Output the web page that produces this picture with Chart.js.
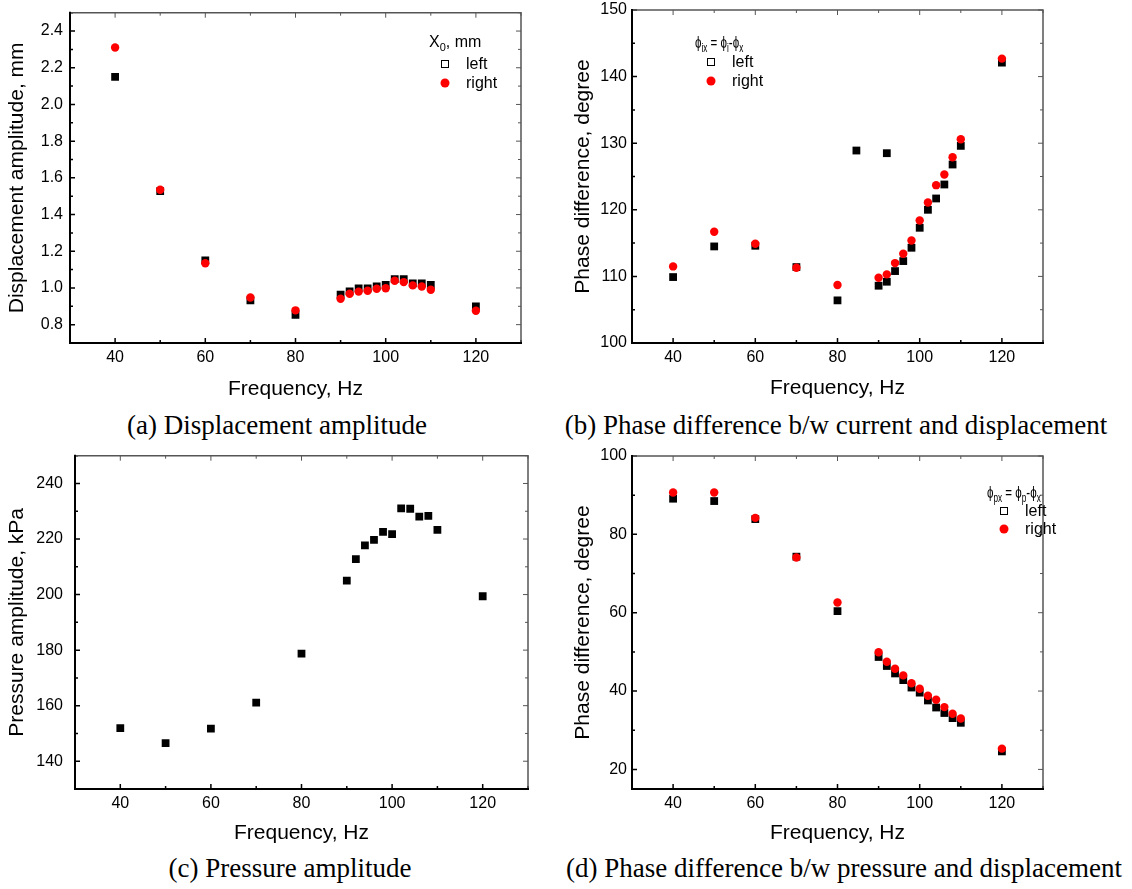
<!DOCTYPE html>
<html>
<head>
<meta charset="utf-8">
<script src="https://cdn.jsdelivr.net/npm/chart.js@4.4.1/dist/chart.umd.min.js"></script>
<style>
body{margin:0;background:#fff;}
#page{position:relative;width:1132px;height:889px;overflow:hidden;font-family:"Liberation Sans",Arial,sans-serif;color:#000;}
canvas{position:absolute;}
.cap{position:absolute;font-family:"Liberation Serif","Times New Roman",serif;font-size:27px;white-space:nowrap;line-height:1;transform:translate(-50%,-50%);}
.leg{position:absolute;font-size:16px;white-space:nowrap;line-height:1;transform:translateY(-50%);}
.phi{font-size:17px;transform-origin:left center;transform:translateY(-50%) scaleX(0.68);}
.sq{position:absolute;width:6px;height:6px;border:1px solid #000;transform:translate(-50%,-50%);}
.dot{position:absolute;width:9px;height:9px;border-radius:50%;background:#f00;transform:translate(-50%,-50%);}
sub{font-size:11px;vertical-align:-4px;line-height:0;}
.phi sub{font-size:12px;}
</style>
</head>
<body>
<div id="page">
  <canvas id="chartA" width="529" height="402" style="left:0;top:0"></canvas>
  <canvas id="chartB" width="491" height="401" style="left:560px;top:0"></canvas>
  <canvas id="chartC" width="536" height="406" style="left:0;top:440px"></canvas>
  <canvas id="chartD" width="491" height="406" style="left:560px;top:440px"></canvas>

  <!-- legends -->
  <div class="leg" style="left:429px;top:42px">X<sub>0</sub>, mm</div>
  <div class="sq" style="left:445px;top:64px"></div>
  <div class="leg" style="left:466px;top:64px">left</div>
  <div class="dot" style="left:445px;top:83px"></div>
  <div class="leg" style="left:466px;top:83px">right</div>

  <div class="leg phi" style="left:695px;top:42px">ϕ<sub>ix</sub> = ϕ<sub>i</sub>-ϕ<sub>x</sub></div>
  <div class="sq" style="left:711px;top:62px"></div>
  <div class="leg" style="left:732px;top:62px">left</div>
  <div class="dot" style="left:711px;top:81px"></div>
  <div class="leg" style="left:732px;top:81px">right</div>

  <div class="leg phi" style="left:987px;top:492px">ϕ<sub>px</sub> = ϕ<sub>p</sub>-ϕ<sub>x</sub></div>
  <div class="sq" style="left:1004px;top:511px"></div>
  <div class="leg" style="left:1025px;top:511px">left</div>
  <div class="dot" style="left:1004px;top:529px"></div>
  <div class="leg" style="left:1025px;top:529px">right</div>

  <!-- captions -->
  <div class="cap" style="left:277px;top:425px">(a) Displacement amplitude</div>
  <div class="cap" style="left:836px;top:425px">(b) Phase difference b/w current and displacement</div>
  <div class="cap" style="left:290px;top:868px">(c) Pressure amplitude</div>
  <div class="cap" style="left:844px;top:868px">(d) Phase difference b/w pressure and displacement</div>
</div>
<script>
// frequencies, Hz
const freq = [40, 50, 60, 70, 80, 90, 92, 94, 96, 98, 100, 102, 104, 106, 108, 110, 120];
const xTicks = [40, 60, 80, 100, 120];

// (a) displacement amplitude, mm
const ampLeft  = [2.15, 1.528, 1.15, 0.932, 0.854, 0.963, 0.981, 0.998, 0.998, 1.008, 1.017, 1.048, 1.048, 1.025, 1.025, 1.016, 0.90];
const ampRight = [2.31, 1.535, 1.135, 0.948, 0.878, 0.941, 0.968, 0.98, 0.985, 0.996, 0.998, 1.039, 1.032, 1.014, 1.008, 0.99, 0.876];
const ampTicks = [0.8, 1.0, 1.2, 1.4, 1.6, 1.8, 2.0, 2.2, 2.4];

// (b) phase current - displacement, degree
const phaseIxLeft  = [109.9, 114.5, 114.6, 111.4, 106.4, 108.6, 109.2, 110.8, 112.3, 114.3, 117.3, 120.0, 121.7, 123.8, 126.8, 129.6, 142.1];
const phaseIxRight = [111.5, 116.7, 114.9, 111.3, 108.7, 109.8, 110.3, 112.0, 113.4, 115.4, 118.4, 121.1, 123.7, 125.3, 127.9, 130.6, 142.7];
const extraFreq = [84.6, 92];          // two stray "left" points
const extraIxLeft = [128.9, 128.5];
const phaseIxTicks = [100, 110, 120, 130, 140, 150];

// (c) pressure amplitude, kPa
const pressure = [151.9, 146.5, 151.7, 161.1, 178.7, 205.0, 212.8, 217.7, 219.7, 222.6, 221.8, 231.0, 230.9, 228.1, 228.3, 223.3, 199.4];
const pressureTicks = [140, 160, 180, 200, 220, 240];

// (d) phase pressure - displacement, degree
const phasePxLeft  = [89.1, 88.5, 83.9, 74.3, 60.4, 48.7, 46.4, 44.5, 42.8, 40.9, 39.6, 37.6, 35.8, 34.4, 33.1, 31.9, 24.6];
const phasePxRight = [90.7, 90.7, 84.2, 74.1, 62.6, 49.9, 47.5, 45.7, 44.0, 42.0, 40.6, 38.8, 37.8, 35.9, 34.2, 33.0, 25.3];
const phasePxTicks = [20, 40, 60, 80, 100];

function pts(xs, ys) {
  return xs.map((x, i) => ({x: x, y: ys[i]}));
}

function squares(data) {
  return {label: 'left', data: data, pointStyle: 'rect', pointRadius: 5.5, pointHoverRadius: 5.5,
          backgroundColor: '#000', borderColor: '#000', borderWidth: 0, order: 2};
}
function circles(data) {
  return {label: 'right', data: data, pointStyle: 'circle', pointRadius: 4.2, pointHoverRadius: 4.2,
          backgroundColor: '#ff0000', borderColor: '#ff0000', borderWidth: 0, order: 1};
}

// box with inward major/minor ticks on all four sides
const frame = {
  id: 'frame',
  beforeDatasetsDraw(chart, args, o) {
    const ctx = chart.ctx, a = chart.chartArea;
    const xs = chart.scales.x, ys = chart.scales.y;
    function minors(scale, step) {
      const out = [];
      for (let i = Math.ceil(scale.min / step - 1e-9); i * step <= scale.max + 1e-9; i++) out.push(+(i * step).toFixed(6));
      return out;
    }
    function ticks(color, w, sides) {
      ctx.strokeStyle = color; ctx.lineWidth = w;
      ctx.beginPath();
      minors(xs, o.xMinor).forEach(v => {
        const p = xs.getPixelForValue(v);
        const len = xs.ticks.some(t => Math.abs(t.value - v) < 1e-6) ? 5 : 3;
        if (sides.bottom) { ctx.moveTo(p, a.bottom); ctx.lineTo(p, a.bottom - len); }
        if (sides.top) { ctx.moveTo(p, a.top); ctx.lineTo(p, a.top + len); }
      });
      minors(ys, o.yMinor).forEach(v => {
        const p = ys.getPixelForValue(v);
        const len = ys.ticks.some(t => Math.abs(t.value - v) < 1e-6) ? 5 : 3;
        if (sides.left) { ctx.moveTo(a.left, p); ctx.lineTo(a.left + len, p); }
        if (sides.right) { ctx.moveTo(a.right, p); ctx.lineTo(a.right - len, p); }
      });
      ctx.stroke();
    }
    ctx.save();
    ticks('#555', 1, {top: true, right: true});
    ticks('#000', 1.5, {bottom: true, left: true});
    ctx.strokeStyle = '#555'; ctx.lineWidth = 1.5;
    ctx.beginPath();
    ctx.moveTo(a.left, a.top); ctx.lineTo(a.right, a.top); ctx.lineTo(a.right, a.bottom);
    ctx.stroke();
    ctx.strokeStyle = '#000'; ctx.lineWidth = 2;
    ctx.beginPath();
    ctx.moveTo(a.left, a.top - 1); ctx.lineTo(a.left, a.bottom); ctx.lineTo(a.right + 1, a.bottom);
    ctx.stroke();
    ctx.restore();
  }
};

function makeChart(id, p) {
  return new Chart(document.getElementById(id), {
    type: 'scatter',
    data: {datasets: p.datasets},
    options: {
      responsive: false,
      animation: false,
      layout: {padding: {left: 0, top: p.padT, right: 8, bottom: 0}},
      plugins: {
        legend: {display: false},
        tooltip: {enabled: false},
        frame: {xMinor: 10, yMinor: p.yMinor}
      },
      scales: {
        x: {
          type: 'linear', min: 30, max: 130,
          grid: {display: false, drawTicks: false},
          border: {display: false},
          afterBuildTicks: s => { s.ticks = xTicks.map(v => ({value: v})); },
          afterFit: s => { s.height = p.xH; s.paddingLeft = 0; s.paddingRight = 0; },
          ticks: {color: '#000', font: {size: 16}, padding: 5, maxRotation: 0, autoSkip: false},
          title: {display: true, text: 'Frequency, Hz', color: '#000', font: {size: 21}, padding: {top: 0, bottom: 0}}
        },
        y: {
          type: 'linear', min: p.yMin, max: p.yMax,
          grid: {display: false, drawTicks: false},
          border: {display: false},
          afterBuildTicks: s => { s.ticks = p.yTicks.map(v => ({value: v})); },
          afterFit: s => { s.width = p.yW; s.paddingTop = 0; s.paddingBottom = 0; },
          ticks: {color: '#000', font: {size: 16}, padding: p.yTickPad, autoSkip: false,
                  callback: v => v.toFixed(p.dec)},
          title: {display: true, text: p.yTitle, color: '#000', font: {size: 21}, padding: {top: p.yTitlePad, bottom: 0}}
        }
      }
    },
    plugins: [frame]
  });
}

Chart.defaults.font.family = '"Liberation Sans", Arial, sans-serif';

makeChart('chartA', {
  datasets: [squares(pts(freq, ampLeft)), circles(pts(freq, ampRight))],
  yMin: 0.7, yMax: 2.5, yTicks: ampTicks, yMinor: 0.1, dec: 1,
  yTitle: 'Displacement amplitude, mm',
  padT: 12.7, xH: 59, yW: 70, yTickPad: 7, yTitlePad: 5
});

makeChart('chartB', {
  datasets: [squares(pts(freq, phaseIxLeft).concat(pts(extraFreq, extraIxLeft))), circles(pts(freq, phaseIxRight))],
  yMin: 100, yMax: 150, yTicks: phaseIxTicks, yMinor: 5, dec: 0,
  yTitle: 'Phase difference, degree',
  padT: 10, xH: 58, yW: 72, yTickPad: 5, yTitlePad: 10.4
});

makeChart('chartC', {
  datasets: [squares(pts(freq, pressure))],
  yMin: 130, yMax: 250, yTicks: pressureTicks, yMinor: 10, dec: 0,
  yTitle: 'Pressure amplitude, kPa',
  padT: 15.7, xH: 57, yW: 75, yTickPad: 12, yTitlePad: 5
});

makeChart('chartD', {
  datasets: [squares(pts(freq, phasePxLeft)), circles(pts(freq, phasePxRight))],
  yMin: 15, yMax: 100, yTicks: phasePxTicks, yMinor: 10, dec: 0,
  yTitle: 'Phase difference, degree',
  padT: 16, xH: 57, yW: 72, yTickPad: 5, yTitlePad: 10.4
});
</script>
</body>
</html>
